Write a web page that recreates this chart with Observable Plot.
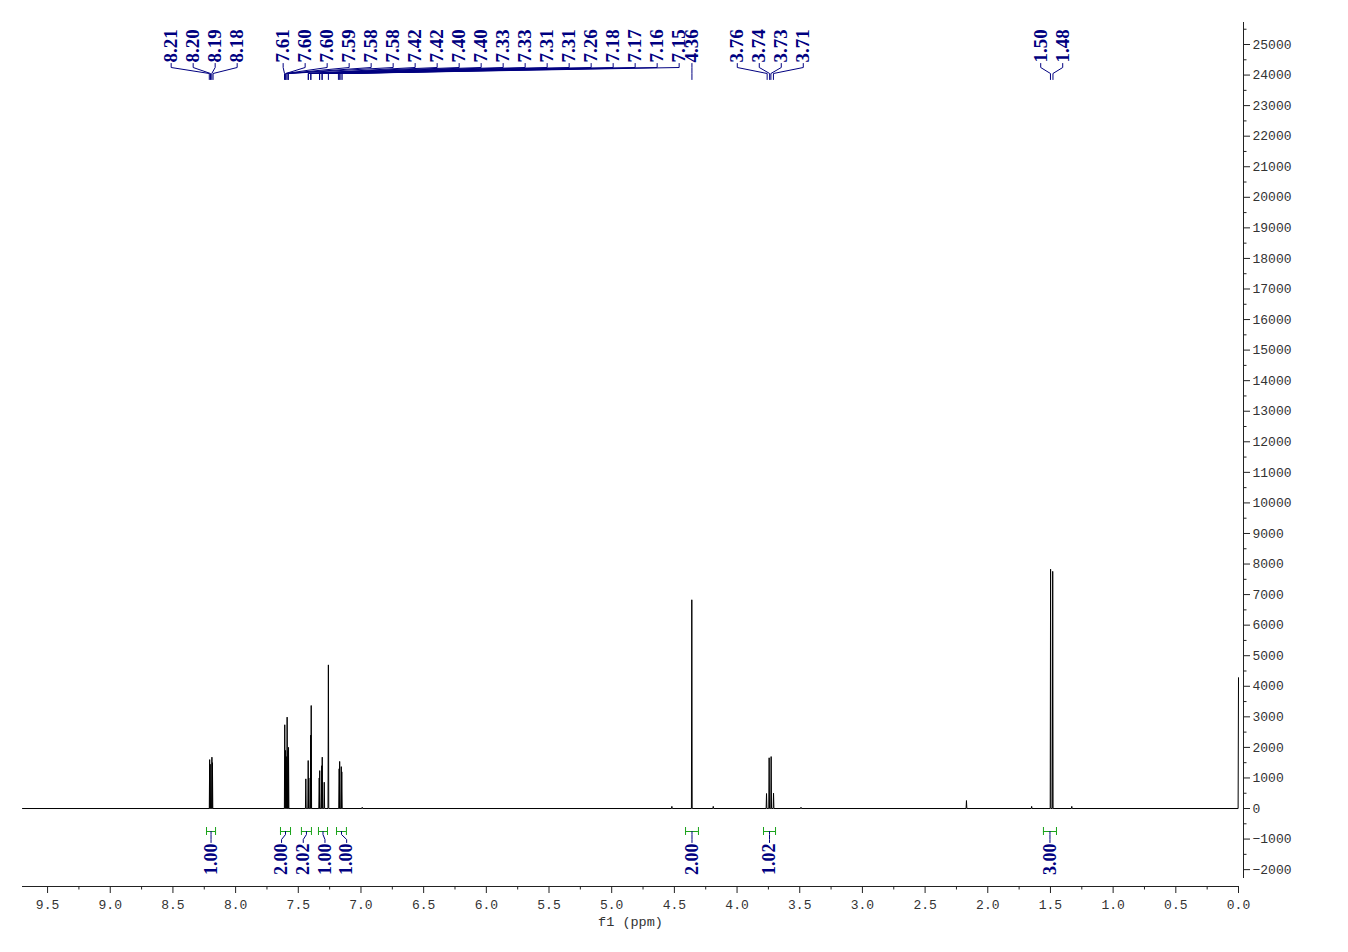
<!DOCTYPE html>
<html><head><meta charset="utf-8">
<script src="https://cdn.jsdelivr.net/npm/d3@7"></script>
<script src="https://cdn.jsdelivr.net/npm/@observablehq/plot@0.6"></script>
<style>
html,body{margin:0;padding:0;background:#fff;overflow:hidden}
</style></head><body><div id="chart"></div>
<script>
// ================= DATA =================
// resolved spectral lines: chemical shift (ppm) and apex intensity
const linePpm = [8.207, 8.203, 8.189, 8.185,
  7.608, 7.602, 7.596, 7.589, 7.582, 7.578,
  7.440, 7.421, 7.416, 7.401, 7.397,
  7.333, 7.329, 7.313, 7.309, 7.293,
  7.260,
  7.174, 7.170, 7.157, 7.153,
  6.99, 4.52, 4.361, 4.19,
  3.765, 3.744, 3.728, 3.709,
  3.49, 2.17, 1.65, 1.499, 1.482, 1.33, 0.0];
const lineHeight = [1600, 1450, 1680, 1500,
  2740, 1900, 1700, 2990, 1900, 2000,
  970, 1570, 1000, 2400, 3370,
  1000, 1240, 1400, 1680, 860,
  4700,
  1300, 1540, 1370, 1200,
  40, 70, 6830, 70,
  490, 1660, 1700, 500,
  40, 260, 70, 7830, 7760, 70, 4280];

// peak-pick labels (top)
const peakLabels = ["8.21","8.20","8.19","8.18",
  "7.61","7.60","7.60","7.59","7.58","7.58","7.42","7.42","7.40","7.40",
  "7.33","7.33","7.31","7.31","7.26","7.18","7.17","7.16","7.15",
  "4.36","3.76","3.74","3.73","3.71","1.50","1.48"];

// integrals (bottom)
const integralFrom  = [8.232, 7.642, 7.475, 7.339, 7.195, 4.411, 3.789, 1.556];
const integralTo    = [8.160, 7.562, 7.395, 7.267, 7.116, 4.308, 3.693, 1.452];
const integralValue = ["1.00","2.00","2.02","1.00","1.00","2.00","1.02","3.00"];

// axis ticks
const xTickValues = [9.5, 9.0, 8.5, 8.0, 7.5, 7.0, 6.5, 6.0, 5.5, 5.0, 4.5, 4.0, 3.5, 3.0, 2.5, 2.0, 1.5, 1.0, 0.5, 0.0];
const yTickValues = [-2000, -1000, 0, 1000, 2000, 3000, 4000, 5000, 6000, 7000, 8000, 9000, 10000,
  11000, 12000, 13000, 14000, 15000, 16000, 17000, 18000, 19000, 20000, 21000, 22000, 23000, 24000, 25000];
const xAxisTitle = "f1 (ppm)";

// ================= LAYOUT =================
const W = 1348, H = 940;
const M = {left: 22, right: 110, top: 22, bottom: H - 878};
const xDomain = [9.7, 0], yDomain = [-2290, 25720];
const xs = d3.scaleLinear(xDomain, [M.left, W - M.right]);
const ys = d3.scaleLinear(yDomain, [H - M.bottom, M.top]);
const xAt = px => xs.invert(px), yAt = px => ys.invert(px);

const navy = "#000080", green = "#1aa31a", axisColor = "#222", tickText = "#333";
const serif = "Liberation Serif, Times New Roman, serif";
const mono = "Liberation Mono, DejaVu Sans Mono, monospace";

// spectrum polyline built from the line list
const halfW = 0.003;
const spectrum = [{x: xDomain[0], y: 0}];
linePpm.forEach((p, i) => {
  spectrum.push({x: p + halfW, y: 0});
  spectrum.push({x: p, y: lineHeight[i]});
  if (i < linePpm.length - 1) spectrum.push({x: p - halfW, y: 0});
});

// peak label layout: group by gaps, spread 22px apart
const labelVals = peakLabels.map(Number);
const groups = [];
labelVals.forEach((v, i) => {
  if (i === 0 || labelVals[i - 1] - v > 0.3) groups.push([]);
  groups[groups.length - 1].push(i);
});
const groupShiftPx = [-7, 169, 0, 0, 0];
const labelSpacing = 22;
const peakRows = [], peakLinks = [];
groups.forEach((g, gi) => {
  const c = d3.mean(g, i => xs(labelVals[i])) + groupShiftPx[gi];
  g.forEach((i, j) => {
    const lx = c + (j - (g.length - 1) / 2) * labelSpacing;
    const px = xs(labelVals[i]);
    peakRows.push({x: xAt(lx), y: yAt(62), text: peakLabels[i]});
    [[lx, 63], [lx, 67], [px, 73], [px, 79]].forEach(([a, b]) =>
      peakLinks.push({id: i, x: xAt(a), y: yAt(b)}));
  });
});

// integral label layout: merge overlapping labels into centred clusters
const intItems = integralFrom.map((a, i) => ({i, c: (xs(a) + xs(integralTo[i])) / 2}));
const intSpacing = 21.7;
let clusters = [];
intItems.forEach(it => {
  clusters.push({items: [it]});
  let merged = true;
  while (merged && clusters.length > 1) {
    merged = false;
    const last = clusters[clusters.length - 1], prev = clusters[clusters.length - 2];
    const pos = cl => { const m = d3.mean(cl.items, d => d.c); const n = cl.items.length;
      return [m - (n - 1) / 2 * intSpacing, m + (n - 1) / 2 * intSpacing]; };
    if (pos(last)[0] < pos(prev)[1] + intSpacing) {
      prev.items = prev.items.concat(last.items); clusters.pop(); merged = true;
    }
  }
});
const intRows = [], intLinks = [], intBars = [], intCaps = [];
clusters.forEach(cl => {
  const m = d3.mean(cl.items, d => d.c), n = cl.items.length;
  cl.items.forEach((it, j) => {
    const lx = m + (j - (n - 1) / 2) * intSpacing;
    intRows.push({x: xAt(lx), y: yAt(843), text: integralValue[it.i]});
    [[it.c, 831], [it.c, 834], [lx, 839], [lx, 842]].forEach(([a, b]) =>
      intLinks.push({id: it.i, x: xAt(a), y: yAt(b)}));
    intBars.push({x1: integralFrom[it.i], x2: integralTo[it.i], y: yAt(831)});
    intCaps.push({x: integralFrom[it.i]}, {x: integralTo[it.i]});
  });
});

// axis helpers
const yMinor = d3.range(-1500, yDomain[1], 1000);
const xMinor = xTickValues.slice(0, -1).map(v => v - 0.25).concat([9.75]).filter(v => v < xDomain[0]);
const yAxisX = xAt(1243);
const xAxisY = yAt(886);

const chart = Plot.plot({
  width: W, height: H,
  marginLeft: M.left, marginRight: M.right, marginTop: M.top, marginBottom: M.bottom,
  x: {domain: xDomain, axis: null},
  y: {domain: yDomain, axis: null},
  style: {background: "#fff", overflow: "visible"},
  marks: [
    // spectrum
    Plot.line(spectrum, {x: "x", y: "y", stroke: "#000", strokeWidth: 1}),
    // right y axis
    Plot.ruleX([yAxisX], {y1: yDomain[0], y2: yDomain[1], stroke: axisColor, strokeWidth: 1}),
    Plot.ruleY(yTickValues, {y: d => d, x1: yAxisX, x2: xAt(1250), stroke: axisColor}),
    Plot.ruleY(yMinor, {y: d => d, x1: yAxisX, x2: xAt(1246.5), stroke: axisColor}),
    Plot.text(yTickValues, {x: xAt(1252), y: d => d, text: d => d3.format("d")(d), textAnchor: "start",
      fontFamily: mono, fontSize: 13, fill: tickText}),
    // bottom x axis
    Plot.ruleY([xAxisY], {x1: xDomain[0], x2: xDomain[1], stroke: axisColor, strokeWidth: 1}),
    Plot.ruleX(xTickValues, {x: d => d, y1: xAxisY, y2: yAt(893), stroke: axisColor}),
    Plot.ruleX(xMinor, {x: d => d, y1: xAxisY, y2: yAt(889.5), stroke: axisColor}),
    Plot.text(xTickValues, {x: d => d, y: yAt(904), text: d => d.toFixed(1),
      fontFamily: mono, fontSize: 13, fill: tickText}),
    Plot.text([xAxisTitle], {x: xs.invert((M.left + W - M.right) / 2), y: yAt(921), text: d => d,
      fontFamily: mono, fontSize: 13.5, fill: tickText}),
    // peak labels
    Plot.line(peakLinks, {x: "x", y: "y", z: "id", stroke: navy, strokeWidth: 1}),
    Plot.text(peakRows, {x: "x", y: "y", text: "text", rotate: -90, textAnchor: "start",
      fontFamily: serif, fontWeight: "bold", fontSize: 19, fill: navy}),
    // integrals
    Plot.ruleY(intBars, {x1: "x1", x2: "x2", y: "y", stroke: green, strokeWidth: 1}),
    Plot.ruleX(intCaps, {x: "x", y1: yAt(827), y2: yAt(835), stroke: green, strokeWidth: 1}),
    Plot.line(intLinks, {x: "x", y: "y", z: "id", stroke: navy, strokeWidth: 1}),
    Plot.text(intRows, {x: "x", y: "y", text: "text", rotate: -90, textAnchor: "end",
      fontFamily: serif, fontWeight: "bold", fontSize: 18, fill: navy})
  ]
});
document.getElementById("chart").appendChild(chart);
</script>
</body></html>
